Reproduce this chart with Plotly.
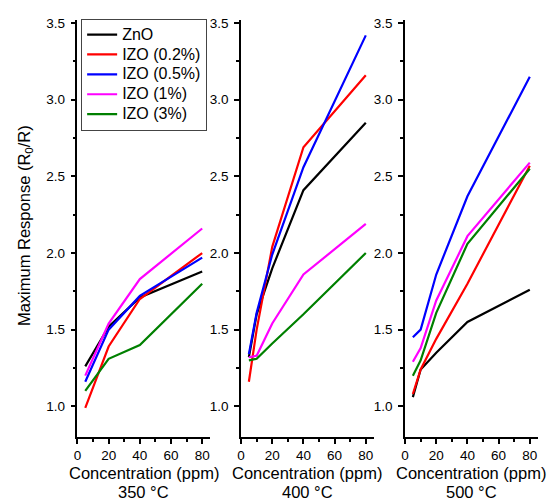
import plotly.graph_objects as go

W, H = 551, 503

series_names = ["ZnO", "IZO (0.2%)", "IZO (0.5%)", "IZO (1%)", "IZO (3%)"]
series_colors = ["#000000", "#FF0000", "#0000FF", "#FF00FF", "#008000"]

x350 = [5, 20, 40, 80]
zno_350 = [1.26, 1.52, 1.71, 1.88]
izo02_350 = [0.99, 1.39, 1.70, 2.00]
izo05_350 = [1.16, 1.50, 1.72, 1.97]
izo1_350 = [1.20, 1.54, 1.83, 2.16]
izo3_350 = [1.10, 1.31, 1.40, 1.80]

x400 = [5, 10, 20, 40, 80]
zno_400 = [1.32, 1.60, 1.90, 2.41, 2.85]
izo02_400 = [1.16, 1.50, 2.04, 2.69, 3.16]
izo05_400 = [1.34, 1.61, 1.99, 2.56, 3.42]
izo1_400 = [1.32, 1.33, 1.54, 1.86, 2.19]
izo3_400 = [1.30, 1.31, 1.41, 1.60, 2.00]

x500 = [5, 10, 20, 40, 80]
zno_500 = [1.06, 1.24, 1.35, 1.55, 1.76]
izo02_500 = [1.08, 1.24, 1.44, 1.80, 2.57]
izo05_500 = [1.45, 1.50, 1.86, 2.37, 3.15]
izo1_500 = [1.29, 1.38, 1.69, 2.11, 2.59]
izo3_500 = [1.20, 1.30, 1.61, 2.06, 2.55]

temps = ["350 °C", "400 °C", "500 °C"]
x_tick_vals = [0, 20, 40, 60, 80]
x_title = "Concentration (ppm)"
y_title = "Maximum Response (R<sub>0</sub>/R)"

panels = [
    (x350, [zno_350, izo02_350, izo05_350, izo1_350, izo3_350]),
    (x400, [zno_400, izo02_400, izo05_400, izo1_400, izo3_400]),
    (x500, [zno_500, izo02_500, izo05_500, izo1_500, izo3_500]),
]

FONT = "Liberation Sans, Arial, sans-serif"

# pixel layout of panels
px_left = [74.0, 238.8, 404.0]
px_width = 133.5
py_top, py_bottom = 16.2, 436.4

fig = go.Figure()
for p, (xs, ys_list) in enumerate(panels):
    for k, ys in enumerate(ys_list):
        fig.add_trace(go.Scatter(
            x=xs, y=ys, mode="lines",
            name='<span style="font-size:16px">' + series_names[k] + "</span>",
            line=dict(color=series_colors[k], width=2.2),
            showlegend=(p == 0),
            xaxis="x" if p == 0 else f"x{p+1}",
            yaxis="y" if p == 0 else f"y{p+1}",
        ))

layout = dict(
    width=W, height=H,
    margin=dict(l=0, r=0, t=0, b=0),
    paper_bgcolor="white", plot_bgcolor="white",
    font=dict(family=FONT, size=13.5, color="black"),
    legend=dict(
        x=77.7 / W, y=1 - 14.7 / H, xanchor="left", yanchor="top",
        bgcolor="white", bordercolor="#444", borderwidth=1,
        font=dict(family=FONT, size=13, color="black"),
        tracegroupgap=0, itemwidth=30,
    ),
    annotations=[],
)

ydom = [1 - py_bottom / H, 1 - py_top / H]
for p in range(3):
    sfx = "" if p == 0 else str(p + 1)
    x0 = px_left[p] / W
    x1 = (px_left[p] + px_width) / W
    layout["xaxis" + sfx] = dict(
        domain=[x0, x1], range=[0, 85], anchor="y" + sfx,
        tickvals=x_tick_vals, showline=True, linecolor="black", linewidth=1.5,
        ticks="outside", ticklen=5, tickwidth=1.5, tickcolor="black",
        minor=dict(dtick=10, tick0=0, ticks="outside", ticklen=3, tickwidth=1.5, tickcolor="black"),
        showgrid=False, zeroline=False, mirror=False,
        tickfont=dict(family=FONT, size=13.5),
    )
    layout["yaxis" + sfx] = dict(
        domain=ydom, range=[0.8, 3.52], anchor="x" + sfx,
        dtick=0.5, tick0=0, tickformat=".1f",
        showline=True, linecolor="black", linewidth=1.5,
        ticks="outside", ticklen=5, tickwidth=1.5, tickcolor="black",
        ticklabelstandoff=3,
        minor=dict(dtick=0.25, tick0=0, ticks="outside", ticklen=3, tickwidth=1.5, tickcolor="black"),
        showgrid=False, zeroline=False, mirror=False,
        tickfont=dict(family=FONT, size=13.5),
    )
    cx = (x0 + x1) / 2
    layout["annotations"].append(dict(
        x=cx, y=1 - 472.5 / H, xref="paper", yref="paper", text=x_title,
        showarrow=False, xanchor="center", yanchor="middle", borderpad=0,
        font=dict(family=FONT, size=16.5, color="black"),
    ))
    layout["annotations"].append(dict(
        x=cx, y=1 - 492 / H, xref="paper", yref="paper", text=temps[p],
        showarrow=False, xanchor="center", yanchor="middle", borderpad=0,
        font=dict(family=FONT, size=16.5, color="black"),
    ))

layout["annotations"].append(dict(
    x=21 / W, y=1 - 223 / H, xref="paper", yref="paper", text=y_title,
    showarrow=False, xanchor="center", yanchor="middle", textangle=-90,
    font=dict(family=FONT, size=16.5, color="black"),
))

fig.update_layout(**layout)
fig.write_html("out.html")
